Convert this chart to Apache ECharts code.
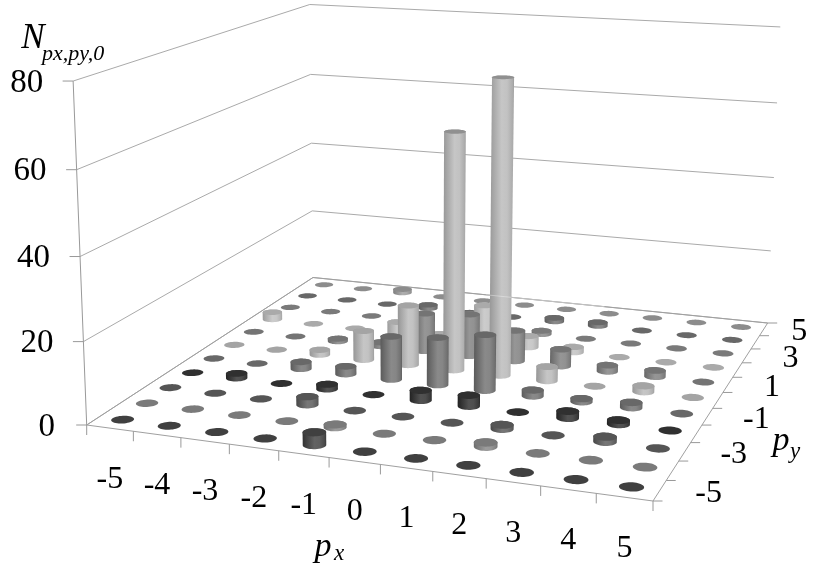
<!DOCTYPE html>
<html>
<head>
<meta charset="utf-8">
<style>html,body{margin:0;padding:0;background:#fff}#c{width:813px;height:567px}</style>
<script src="https://cdn.jsdelivr.net/npm/echarts@6/dist/echarts.min.js"></script>
</head>
<body>
<div id="c"></div>
<script>
// ---- data -------------------------------------------------------------
var pxValues = [-5,-4,-3,-2,-1,0,1,2,3,4,5];
var pyTickLabels = [-5,-3,-1,1,3,5];
var zTicks = [0,20,40,60,80];
var countsPy5  = [0,0,1,0,0,0,0,0,0,0,0];
var countsPy4  = [0,0,0,1,0,0,1,1,0,0,0];
var countsPy3  = [0,0,0,0,0,0,0.9,0,0,0,0];
var countsPy2  = [2,0,0,3,1,10,3,1.4,0,0,0];
var countsPy1  = [0,0,0.7,1,10,11,8,4.4,1.6,1.6,0];
var countsPy0  = [0,0,1.3,7.6,15.5,60.5,74.5,3.6,0,1.5,0];
var countsPyM1 = [0,0,1.8,2,11,12,14,1.5,0.8,1.3,0];
var countsPyM2 = [0,1.2,0,1.2,0,2.5,2.7,0,1.7,1,0];
var countsPyM3 = [0,0,0,2,0,0,0,1,0,1.2,0];
var countsPyM4 = [0,0,0,0,0.7,0,0,1,0,0,0];
var countsPyM5 = [0,0,0,0,3,0,0,0,0,0,0];
// drawn back to front
var rows = [
  {py:5,  counts:countsPy5,  gray:0x8c},
  {py:4,  counts:countsPy4,  gray:0x68},
  {py:3,  counts:countsPy3,  gray:0x7a},
  {py:2,  counts:countsPy2,  gray:0xaa},
  {py:1,  counts:countsPy1,  gray:0x74},
  {py:0,  counts:countsPy0,  gray:0xa4},
  {py:-1, counts:countsPyM1, gray:0x68},
  {py:-2, counts:countsPyM2, gray:0x30},
  {py:-3, counts:countsPyM3, gray:0x55},
  {py:-4, counts:countsPyM4, gray:0x7a},
  {py:-5, counts:countsPyM5, gray:0x40}
];

// ---- projection: (px, py, N) -> page units, fitted to the box ---------
var A=[86.7,425], B=[653,501], C=[767.7,323], D=[313,277.5];
var K=(function(){
  var dx1=B[0]-C[0],dy1=B[1]-C[1],dx2=D[0]-C[0],dy2=D[1]-C[1];
  var sx=A[0]-B[0]+C[0]-D[0],sy=A[1]-B[1]+C[1]-D[1];
  var den=dx1*dy2-dy1*dx2;
  var g=(sx*dy2-sy*dx2)/den,h=(dx1*sy-dy1*sx)/den;
  return {a:B[0]-A[0]+g*B[0],b:D[0]-A[0]+h*D[0],c:A[0],
          d:B[1]-A[1]+g*B[1],e:D[1]-A[1]+h*D[1],f:A[1],g:g,h:h};
})();
var zX=-16.5, zY=-347.2, zW=-0.04, zMax=80;
function proj(u,v,n){
  var z=n/zMax, w=K.g*u+K.h*v+1+zW*z;
  return [(K.a*u+K.b*v+K.c+zX*z)/w,(K.d*u+K.e*v+K.f+zY*z)/w];
}
function cell(p){return (p+5.5)/11;}
var RADIUS=0.218/11;

function gray(v){v=Math.max(0,Math.min(255,Math.round(v)));return 'rgb('+v+','+v+','+v+')';}
function hull(pts){
  var p=pts.slice().sort(function(a,b){return a[0]-b[0]||a[1]-b[1];});
  function cross(o,a,b){return (a[0]-o[0])*(b[1]-o[1])-(a[1]-o[1])*(b[0]-o[0]);}
  var lo=[],up=[],i;
  for(i=0;i<p.length;i++){while(lo.length>1&&cross(lo[lo.length-2],lo[lo.length-1],p[i])<=0)lo.pop();lo.push(p[i]);}
  for(i=p.length-1;i>=0;i--){while(up.length>1&&cross(up[up.length-2],up[up.length-1],p[i])<=0)up.pop();up.push(p[i]);}
  return lo.slice(0,-1).concat(up.slice(0,-1));
}

var SERIF='"Liberation Serif","Times New Roman",serif';
var LINE='#aaaaaa';

// ---- data rows for the series ------------------------------------------
var barData=[];
rows.forEach(function(r){
  r.counts.forEach(function(n,i){barData.push([pxValues[i],r.py,n,r.gray]);});
});

function renderBar(params,api){
  var px=api.value(0),py=api.value(1),n=api.value(2),g=api.value(3);
  var u=cell(px),v=cell(py),base=[],top=[];
  for(var t=0;t<40;t++){
    var a=t/40*Math.PI*2,du=RADIUS*Math.cos(a),dv=RADIUS*Math.sin(a);
    base.push(api.coord(proj(u+du,v+dv,0)));
    top.push(api.coord(proj(u+du,v+dv,n)));
  }
  var kids=[];
  if(n>0){
    kids.push({type:'polygon',shape:{points:hull(base.concat(top))},
      style:{fill:new echarts.graphic.LinearGradient(0,0,1,0,[
        {offset:0,color:gray(g-14)},
        {offset:0.14,color:gray(g)},
        {offset:0.5,color:gray(g+34)},
        {offset:0.72,color:gray(g+30)},
        {offset:0.94,color:gray(g+8)},
        {offset:1,color:gray(g-8)}])}});
  }
  kids.push({type:'polygon',shape:{points:top},style:{fill:gray(n>50?g-20:g)}});
  return {type:'group',children:kids};
}

function renderFrame(params,api){
  var kids=[];
  function line(pts,color){
    kids.push({type:'polyline',shape:{points:pts.map(function(p){return api.coord(p);})},
      style:{stroke:color||LINE,lineWidth:1,fill:null}});
  }
  function text(str,x,y,size,align,italic){
    var c=api.coord([x,y]);
    kids.push({type:'text',style:{text:String(str),x:c[0],y:c[1],fill:'#000',
      font:(italic?'italic ':'')+size+'px '+SERIF,align:align||'center',verticalAlign:'middle'}});
  }
  zTicks.forEach(function(z){
    line([proj(0,0,z),proj(0,1,z),proj(1,1,z)]);
    var p=proj(0,0,z);
    line([[p[0]-10.5,p[1]],p],'#999');
    text(z,p[0]-(z<10?40:30),p[1]+2,33,z<10?'center':'right');
  });
  line([proj(0,0,0),proj(0,0,zMax)],'#999');
  line([proj(0,0,0),proj(1,0,0),proj(1,1,0),proj(0,1,0),proj(0,0,0)],'#a0a0a0');
  pxValues.forEach(function(p,i){
    var q=proj(i/11,0,0);
    line([q,[q[0],q[1]+10]],'#999');
    var m=proj((i+0.5)/11,0,0);
    text(p,m[0],m[1]+51,32);
  });
  var e=proj(1,0,0);
  line([e,[e[0],e[1]+10]],'#999');
  for(var j=0;j<=11;j++){
    var s=proj(1,j/11,0);
    line([s,[s[0]+9.5,s[1]]],'#999');
  }
  pyTickLabels.forEach(function(p){
    var m=proj(1,cell(p),0);
    var dx=p<0?49:(p===5?35.5:44);
    text(p,m[0]+dx,m[1]+2.5,32);
  });
  text('N',33,39,35,'center',true);
  text('px,py,0',42,54,22,'left',true);
  text('p',323,547,34,'center',true);
  text('x',334,554,23,'left',true);
  text('p',781,441,34,'center',true);
  text('y',790,452,23,'left',true);
  return {type:'group',children:kids};
}

function renderSheen(params,api){
  return {type:'polyline',shape:{points:[api.coord(proj(0.4,1,0)),api.coord(proj(0.66,1,0))]},
    style:{stroke:'rgba(255,255,255,0.35)',lineWidth:1,fill:null}};
}

var chart=echarts.init(document.getElementById('c'),null,{renderer:'canvas'});
chart.setOption({
  animation:false,
  backgroundColor:'#fff',
  grid:{left:0,right:0,top:0,bottom:0},
  xAxis:{type:'value',min:0,max:813,show:false},
  yAxis:{type:'value',min:0,max:567,inverse:true,show:false},
  series:[
    {type:'custom',renderItem:renderFrame,data:[[0]],clip:false,silent:true,z:1},
    {type:'custom',renderItem:renderBar,data:barData,clip:false,silent:true,z:2},
    {type:'custom',renderItem:renderSheen,data:[[0]],clip:false,silent:true,z:3}
  ]
});
</script>
</body>
</html>
